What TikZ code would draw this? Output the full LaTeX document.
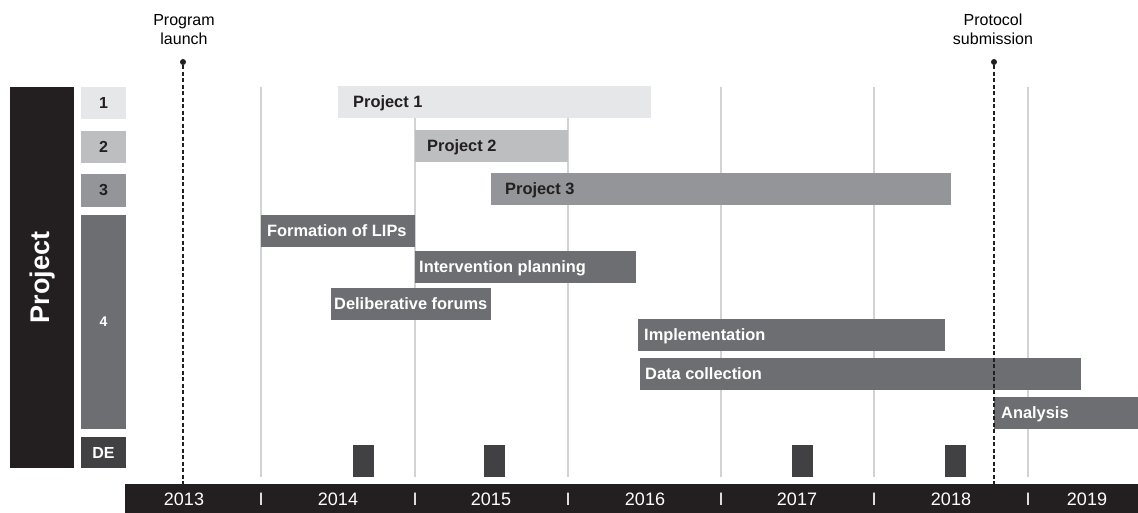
\documentclass[tikz,border=0pt]{standalone}
\usepackage{fontspec}
\setmainfont{Liberation Sans}
\usepackage{tikz}
\usetikzlibrary{positioning}

\definecolor{toneA}{HTML}{E6E7E8}
\definecolor{toneB}{HTML}{BCBEC0}
\definecolor{toneC}{HTML}{939598}
\definecolor{toneD}{HTML}{6D6E71}
\definecolor{toneE}{HTML}{414042}
\definecolor{inkdark}{HTML}{231F20}
\definecolor{gridgray}{HTML}{D1D3D4}

\begin{document}
\begin{tikzpicture}[x=1pt, y=-1pt,
  bar/.style={anchor=north west, minimum height=32, inner sep=0pt, outer sep=0pt},
  bartext/.style={anchor=west, inner sep=0pt, text height=11.7pt, text depth=0pt,
    font=\fontsize{16.4}{19}\selectfont\bfseries},
  keybox/.style={anchor=north west, minimum width=45, inner sep=0pt, outer sep=0pt,
    font=\fontsize{16}{18}\selectfont\bfseries},
  yearlbl/.style={text=white, inner sep=0pt, font=\fontsize{18}{20}\selectfont},
  milestone/.style={circle, fill=inkdark, inner sep=0pt, minimum size=6},
  eventline/.style={draw=inkdark, line width=1.3pt, dash pattern=on 4pt off 2.5pt}]
  \useasboundingbox (0,0) rectangle (1138,513);

  % year grid
  \foreach \x in {261,415,568,721,874,1028}{
    \draw[gridgray, line width=1.5pt] (\x,87)--(\x,477);
  }

  % project column on the left
  \node[anchor=north west, fill=inkdark, minimum width=64, minimum height=381,
    inner sep=0pt] (ptitlebox) at (10,87) {};
  \node[rotate=90, text=white, font=\fontsize{27}{30}\selectfont\bfseries]
    (ptitle) at (ptitlebox.center) {Project};
  \foreach \n/\y/\h/\col/\tc in {1/87/32/toneA/inkdark, 2/131/32/toneB/inkdark,
      3/174/33/toneC/inkdark, DE/437/31/toneE/white}{
    \node[keybox, fill=\col, text=\tc, minimum height=\h] (key-\n) at (81,\y) {\n};
  }
  \node[keybox, fill=toneD, text=white, minimum height=214,
    font=\fontsize{14}{16}\selectfont\bfseries] (key-4) at (81,215) {4};

  % activity bars
  \foreach \n/\xa/\xb/\y/\col/\tc/\pad/\txt in {
      p1/338/651/86/toneA/inkdark/15pt/Project 1,
      p2/415/568/130/toneB/inkdark/12pt/Project 2,
      p3/491/951/173/toneC/inkdark/14pt/Project 3,
      lips/261/415/215/toneD/white/6pt/Formation of LIPs,
      plan/415/636/251/toneD/white/4pt/Intervention planning,
      forum/331/491/288/toneD/white/3pt/Deliberative forums,
      impl/638/945/319/toneD/white/6pt/Implementation,
      data/640/1081/358/toneD/white/5pt/Data collection,
      anal/994/1138/397/toneD/white/7pt/Analysis}{
    \node[bar, fill=\col, minimum width={\xb-\xa}] (bar-\n) at (\xa,\y) {};
    \node[bartext, text=\tc, right=\pad of bar-\n.west] (txt-\n) {\txt};
  }

  % DE blocks
  \foreach \x/\n in {353/a, 484/b, 792/c, 945/d}{
    \node[anchor=north west, fill=toneE, minimum width=21, minimum height=32,
      inner sep=0pt] (de-\n) at (\x,445) {};
  }

  % time axis
  \fill[inkdark] (125,484) rectangle (1138,513);
  \foreach \x/\yr in {184/2013, 338/2014, 491/2015, 645/2016, 797/2017, 951/2018, 1087/2019}{
    \node[yearlbl] (yr-\yr) at (\x,499.5) {\yr};
  }
  \foreach \x/\n in {261/1, 415/2, 568/3, 721/4, 874/5, 1028/6}{
    \node[yearlbl] (tick-\n) at (\x,499.5) {I};
  }

  % milestones
  \node[milestone] (launch) at (183,62) {};
  \coordinate (launch-end) at (183,484);
  \draw[eventline] (launch)--(launch-end);
  \node[anchor=south, align=center, inner sep=0pt, font=\fontsize{16}{19}\selectfont]
    (launch-lbl) at (184,45) {Program\\launch};
  \node[milestone] (submit) at (994,62) {};
  \coordinate (submit-end) at (994,484);
  \draw[eventline] (submit)--(submit-end);
  \node[anchor=south, align=center, inner sep=0pt, font=\fontsize{16}{19}\selectfont]
    (submit-lbl) at (993,45) {Protocol\\submission};
\end{tikzpicture}
\end{document}
